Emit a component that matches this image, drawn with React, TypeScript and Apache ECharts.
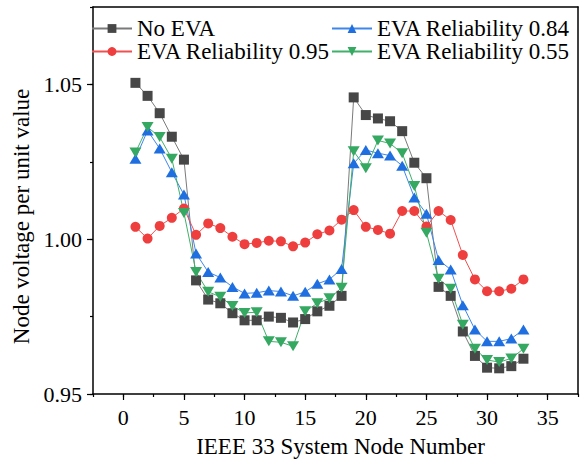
import React, { useEffect, useRef } from "react";
import * as echarts from "echarts";

// IEEE 33-bus node voltages (p.u.) under different EVA reliability scenarios
const nodes = Array.from({ length: 33 }, (_, i) => i + 1);

const noEva = [
  1.0505, 1.0463, 1.0407, 1.0331, 1.0257, 0.9867, 0.9805, 0.9793, 0.9761, 0.9738, 0.9738,
  0.975, 0.9746, 0.9731, 0.9742, 0.9767, 0.9785, 0.9817, 1.0458, 1.0401, 1.039, 1.0381,
  1.0349, 1.0247, 1.0197, 0.9846, 0.9817, 0.9702, 0.9623, 0.9585, 0.9583, 0.959, 0.9614,
];

const reliability095 = [
  1.004, 1.0002, 1.0043, 1.0069, 1.0099, 1.0014, 1.0051, 1.0036, 1.0008, 0.9984, 0.9988,
  0.9995, 0.9993, 0.9977, 0.9989, 1.0016, 1.0028, 1.0063, 1.0094, 1.004, 1.003, 1.0018,
  1.0091, 1.0091, 1.0041, 1.0091, 1.0062, 0.9949, 0.987, 0.9832, 0.9832, 0.984, 0.987,
];

const reliability084 = [
  1.026, 1.0351, 1.0293, 1.0216, 1.0144, 0.9954, 0.9894, 0.9876, 0.9846, 0.9825, 0.9827,
  0.9834, 0.9831, 0.9817, 0.983, 0.9856, 0.987, 0.9904, 1.0245, 1.0288, 1.0278, 1.027,
  1.0237, 1.0135, 1.0082, 0.9933, 0.9902, 0.9787, 0.9708, 0.967, 0.967, 0.9679, 0.9708,
];

const reliability055 = [
  1.028, 1.0362, 1.033, 1.026, 1.0085, 0.9894, 0.983, 0.9814, 0.9784, 0.9762, 0.9764,
  0.967, 0.9667, 0.9654, 0.9767, 0.9793, 0.9809, 0.9843, 1.0284, 1.0229, 1.0319, 1.0309,
  1.0278, 1.0172, 1.0021, 0.9872, 0.984, 0.9724, 0.9646, 0.961, 0.9603, 0.9615, 0.9646,
];

const xMajorTicks = [0, 5, 10, 15, 20, 25, 30, 35];
const yMajorTicks = [0.95, 1.0, 1.05];

const X_MIN = -2.5;
const X_MAX = 37.5;
const Y_MIN = 0.95;
const Y_MAX = 1.075;

const FONT = "'Liberation Serif', 'Times New Roman', serif";

const pairs = (vals: number[]) => nodes.map((n, i) => [n, vals[i]]);

const AXIS_LINE = { color: "#000", width: 1.5 };
const TICK_LINE = { color: "#000", width: 1.2 };

// plain frame edge: line only, no ticks or labels
const frameAxis = (position: string, min: number, max: number) => ({
  type: "value",
  min,
  max,
  position,
  axisLine: { show: true, onZero: false, lineStyle: AXIS_LINE },
  axisTick: { show: false },
  axisLabel: { show: false },
  splitLine: { show: false },
});

export default function App() {
  const ref = useRef<HTMLDivElement>(null);

  useEffect(() => {
    if (!ref.current) return;
    const chart = echarts.init(ref.current, null, { renderer: "svg" });

    const lineSeries = (
      name: string,
      vals: number[],
      color: string,
      lineColor: string,
      symbol: string,
      size: number | number[],
      rotate = 0
    ) => ({
      name,
      type: "line",
      data: pairs(vals),
      symbol,
      symbolSize: size,
      symbolRotate: rotate,
      showSymbol: true,
      lineStyle: { color: lineColor, width: 1 },
      itemStyle: { color, borderWidth: 0 },
      emphasis: { disabled: true },
    });

    const legendBase = {
      orient: "vertical",
      top: 17,
      padding: 0,
      itemGap: 0,
      itemWidth: 40,
      itemHeight: 11,
      textStyle: { fontFamily: FONT, fontSize: 23, lineHeight: 23, color: "#000" },
    };

    chart.setOption({
      animation: false,
      textStyle: { fontFamily: FONT },
      grid: { left: 93, right: 10, top: 7, bottom: 65, show: false },
      legend: [
        { ...legendBase, left: 91, data: ["No EVA", "EVA Reliability 0.95"] },
        { ...legendBase, left: 331, data: ["EVA Reliability 0.84", "EVA Reliability 0.55"] },
      ],
      xAxis: [
        {
          type: "value",
          min: X_MIN,
          max: X_MAX,
          interval: 2.5,
          position: "bottom",
          name: "IEEE 33 System Node Number",
          nameLocation: "middle",
          nameGap: 41,
          nameTextStyle: { fontFamily: FONT, fontSize: 23, color: "#000", padding: [0, 0, 0, 10] },
          axisLine: { onZero: false, lineStyle: AXIS_LINE },
          axisTick: { length: 3, lineStyle: TICK_LINE },
          axisLabel: {
            fontFamily: FONT,
            fontSize: 22,
            color: "#000",
            margin: 12,
            showMinLabel: true,
            showMaxLabel: true,
            formatter: (v: number) => (xMajorTicks.includes(v) ? String(v) : ""),
          },
          splitLine: { show: false },
        },
        {
          type: "value",
          min: X_MIN,
          max: X_MAX,
          position: "bottom",
          axisLine: { show: false, onZero: false },
          axisTick: { length: 6, customValues: xMajorTicks, lineStyle: TICK_LINE },
          axisLabel: { show: false },
          splitLine: { show: false },
        },
        frameAxis("top", X_MIN, X_MAX),
      ],
      yAxis: [
        {
          type: "value",
          min: Y_MIN,
          max: Y_MAX,
          interval: 0.025,
          position: "left",
          name: "Node voltage per unit value",
          nameLocation: "middle",
          nameGap: 56,
          nameTextStyle: { fontFamily: FONT, fontSize: 23, color: "#000", padding: [0, 32, 0, 0] },
          axisLine: { show: true, onZero: false, lineStyle: AXIS_LINE },
          axisTick: { show: true, length: 3, lineStyle: TICK_LINE },
          axisLabel: {
            fontFamily: FONT,
            fontSize: 22,
            color: "#000",
            margin: 11,
            formatter: (v: number) =>
              yMajorTicks.some((t) => Math.abs(t - v) < 1e-6) ? v.toFixed(2) : "",
          },
          splitLine: { show: false },
        },
        {
          type: "value",
          min: Y_MIN,
          max: Y_MAX,
          position: "left",
          axisLine: { show: false, onZero: false },
          axisTick: { show: true, length: 6, customValues: yMajorTicks, lineStyle: TICK_LINE },
          axisLabel: { show: false },
          splitLine: { show: false },
        },
        frameAxis("right", Y_MIN, Y_MAX),
      ],
      series: [
        lineSeries("No EVA", noEva, "#474747", "#7a7a7a", "rect", 10),
        lineSeries("EVA Reliability 0.84", reliability084, "#1f6fe0", "#3f86ea", "triangle", [12, 10]),
        lineSeries("EVA Reliability 0.95", reliability095, "#ef3e3e", "#f05050", "circle", 10),
        lineSeries("EVA Reliability 0.55", reliability055, "#35a862", "#40b06a", "triangle", [12, 10], 180),
      ],
    });

    return () => chart.dispose();
  }, []);

  return (
    <div
      ref={ref}
      style={{ position: "absolute", left: 0, top: 0, width: 588, height: 463 }}
    />
  );
}
